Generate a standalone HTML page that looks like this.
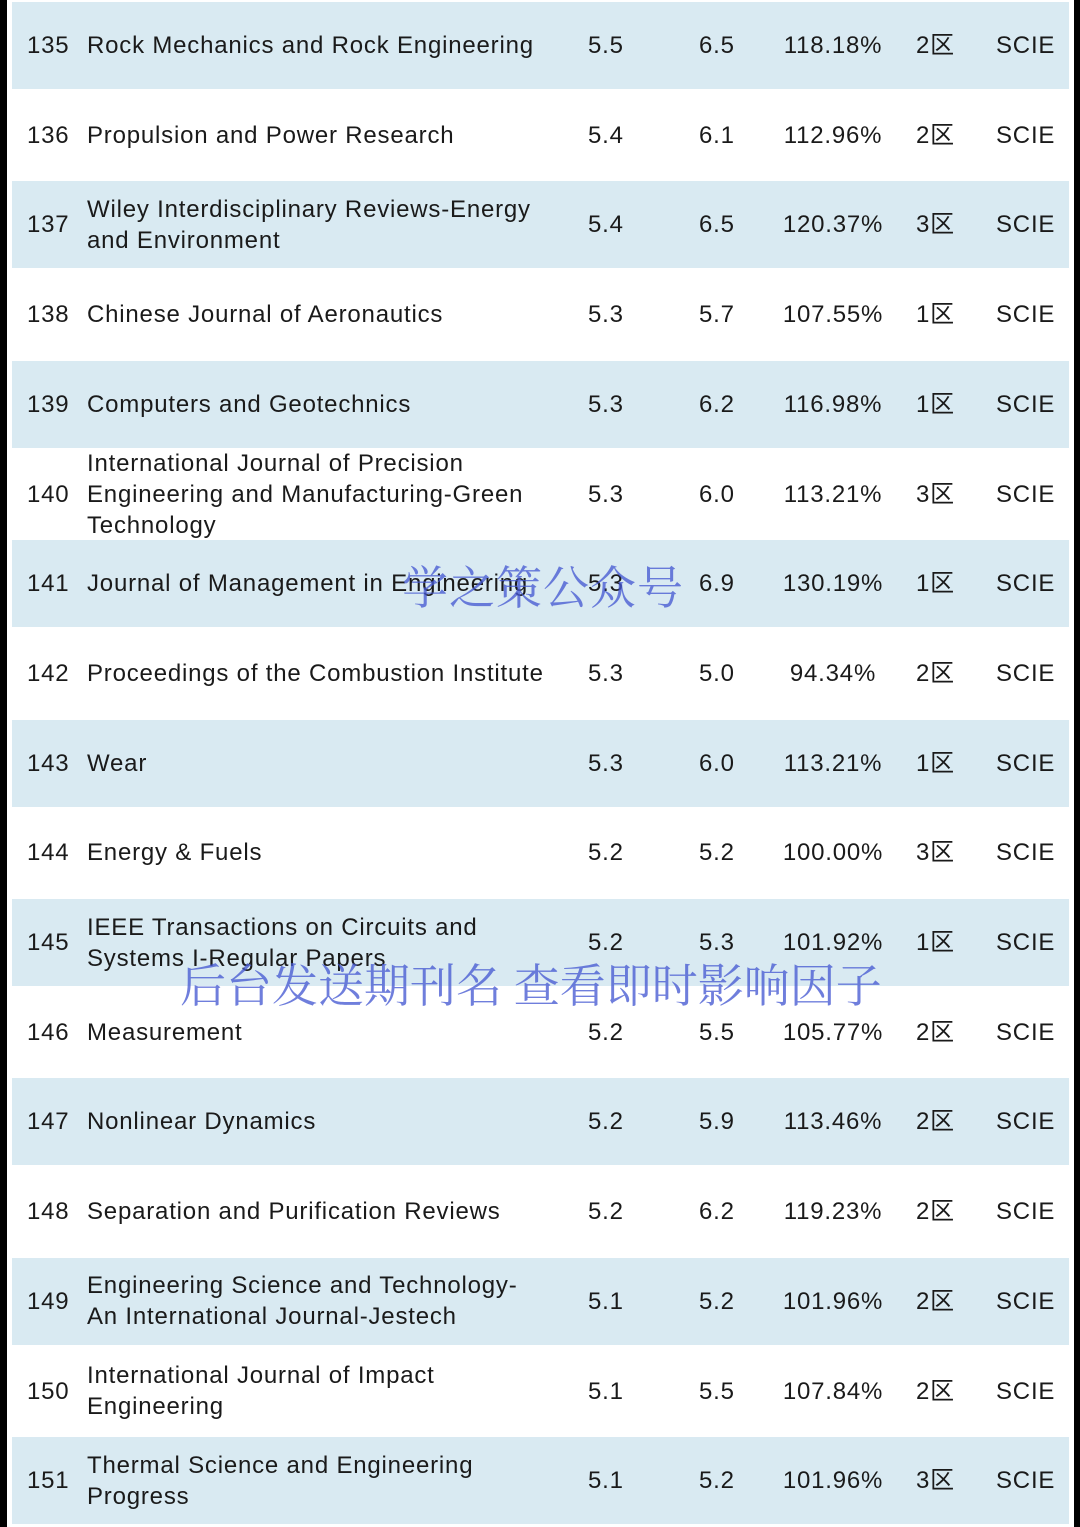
<!DOCTYPE html>
<html><head><meta charset="utf-8"><style>
body{margin:0;width:1080px;height:1527px;background:#fff;position:relative;overflow:hidden;font-family:"Liberation Sans","Noto Sans CJK SC",sans-serif;color:#1a1a1a}
.lb{position:absolute;left:0;top:0;width:7px;height:1527px;background:#000}
.rb{position:absolute;right:0;top:0;width:6px;height:1527px;background:#000}
.row{position:absolute;left:12px;width:1057px;height:87px}
.row.b{background:#d9eaf2}
.c{position:absolute;top:0;height:87px;display:flex;align-items:center;font-size:24px;line-height:31px;letter-spacing:0.8px;white-space:nowrap}
.wm{position:absolute;font-family:"Noto Serif CJK SC",serif;color:rgba(70,90,210,0.78);white-space:nowrap}
</style></head><body>
<div class="lb"></div>
<div class="rb"></div>
<div id="tbl"></div>
<div class="wm" style="left:402px;top:552px;font-size:46px;letter-spacing:1px">学之策公众号</div>
<div class="wm" style="left:180px;top:950px;font-size:46px">后台发送期刊名 查看即时影响因子</div>
<script>
const ranks=[135,136,137,138,139,140,141,142,143,144,145,146,147,148,149,150,151];
const names=["Rock Mechanics and Rock Engineering","Propulsion and Power Research","Wiley Interdisciplinary Reviews-Energy<br>and Environment","Chinese Journal of Aeronautics","Computers and Geotechnics","International Journal of Precision<br>Engineering and Manufacturing-Green<br>Technology","Journal of Management in Engineering","Proceedings of the Combustion Institute","Wear","Energy &amp; Fuels","IEEE Transactions on Circuits and<br>Systems I-Regular Papers","Measurement","Nonlinear Dynamics","Separation and Purification Reviews","Engineering Science and Technology-<br>An International Journal-Jestech","International Journal of Impact<br>Engineering","Thermal Science and Engineering<br>Progress"];
const ifA=["5.5","5.4","5.4","5.3","5.3","5.3","5.3","5.3","5.3","5.2","5.2","5.2","5.2","5.2","5.1","5.1","5.1"];
const ifB=["6.5","6.1","6.5","5.7","6.2","6.0","6.9","5.0","6.0","5.2","5.3","5.5","5.9","6.2","5.2","5.5","5.2"];
const pct=["118.18%","112.96%","120.37%","107.55%","116.98%","113.21%","130.19%","94.34%","113.21%","100.00%","101.92%","105.77%","113.46%","119.23%","101.96%","107.84%","101.96%"];
const zone=["2区","2区","3区","1区","1区","3区","1区","2区","1区","3区","1区","2区","2区","2区","2区","2区","3区"];
const tbl=document.getElementById('tbl');
ranks.forEach((r,i)=>{
  const row=document.createElement('div');
  row.className='row'+(i%2===0?' b':'');
  row.style.top=(2+i*89.7)+'px';
  
  
  const cells=[[15,r,'rank'],[75,names[i],'journal-name'],[576,ifA[i],'impact-factor'],[687,ifB[i],'realtime-factor'],[771,pct[i],'ratio'],[904,zone[i],'zone'],[984,'SCIE','index']];
  cells.forEach(([x,t,n])=>{
    const c=document.createElement('div');
    c.className='c';c.style.left=x+'px';
    if(n==='ratio'){c.style.width='100px';c.style.justifyContent='center';}
    c.innerHTML='<span>'+t+'</span>';
    
    
    row.appendChild(c);
  });
  tbl.appendChild(row);
});
</script>
</body></html>
